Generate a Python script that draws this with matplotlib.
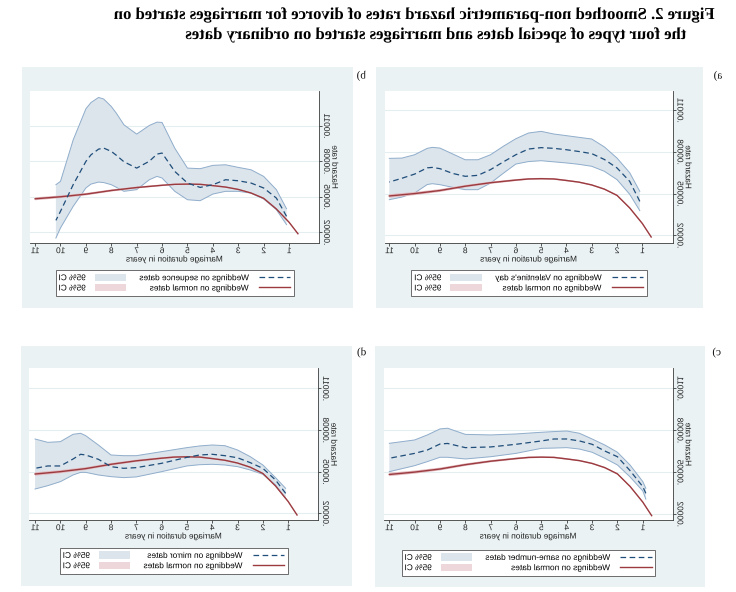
import numpy as np
import matplotlib
matplotlib.use("Agg")
import matplotlib.pyplot as plt
from matplotlib.patches import Rectangle, Patch
from matplotlib.lines import Line2D
from matplotlib.patheffects import AbstractPathEffect
from matplotlib.transforms import Affine2D
from matplotlib.ticker import FuncFormatter
from matplotlib.text import Text

# ---------------- data (hazard rates in units of 1e-5) ----------------
SCALE = 1e-5
x_ticks = [1, 2, 3, 4, 5, 6, 7, 8, 9, 10, 11]
y_ticks = [0.00002, 0.00005, 0.00008, 0.00011]

title_line1 = "Figure 2. Smoothed non-parametric hazard rates of divorce for marriages started on"
title_line2 = "the four types of special dates and marriages started on ordinary dates"
x_title = "Marriage duration in years"
y_title = "Hazard rate"
ci_label = "95% CI"
normal_label = "Weddings on normal dates"

# reference group: weddings on normal dates (same in every panel)
normal_years = [0.65, 1.0, 1.5, 2.0, 2.5, 3.0, 3.5, 4.0, 4.5, 5.0, 5.5, 6.0, 7.0, 8.0, 9.0, 10.0, 11.0]
normal_rate = [1.88, 2.85, 3.97, 4.87, 5.32, 5.62, 5.82, 5.94, 6.05, 6.07, 6.05, 5.97, 5.78, 5.53, 5.22, 5.00, 4.83]
normal_lo = [1.84, 2.80, 3.92, 4.82, 5.27, 5.57, 5.77, 5.89, 6.00, 6.01, 5.99, 5.90, 5.70, 5.44, 5.12, 4.89, 4.71]
normal_hi = [1.92, 2.90, 4.02, 4.92, 5.37, 5.67, 5.87, 6.00, 6.11, 6.13, 6.11, 6.04, 5.86, 5.62, 5.32, 5.11, 4.95]

# a) Valentine's day
val_label = "Weddings on Valentine's day"
val_years = [1.1, 1.5, 2.0, 2.5, 3.0, 3.5, 4.0, 4.5, 5.0, 5.5, 6.0, 6.5, 7.0, 7.5, 8.0, 8.5, 9.0, 9.3, 9.5, 10.0, 10.5, 11.0]
val_rate = [4.44, 5.88, 6.84, 7.45, 7.87, 8.02, 8.15, 8.25, 8.30, 8.20, 7.79, 7.27, 6.72, 6.31, 6.24, 6.45, 6.79, 6.88, 6.85, 6.40, 6.10, 5.83]
val_hi = [5.16, 6.50, 7.55, 8.35, 8.92, 9.04, 9.16, 9.28, 9.47, 9.35, 8.94, 8.39, 7.79, 7.43, 7.43, 7.85, 8.27, 8.32, 8.25, 7.79, 7.55, 7.53]
val_lo = [3.77, 4.95, 6.00, 6.60, 6.96, 7.10, 7.20, 7.28, 7.36, 7.30, 7.12, 6.45, 5.75, 5.28, 5.28, 5.45, 5.64, 5.71, 5.65, 5.04, 4.75, 4.56]

# b) sequence dates
seq_label = "Weddings on sequence dates"
seq_years = [1.1, 1.5, 2.0, 2.5, 3.0, 3.5, 4.0, 4.5, 5.0, 5.5, 6.0, 6.2, 6.5, 7.0, 7.5, 7.8, 8.0, 8.3, 8.5, 8.8, 9.0, 9.5, 10.0, 10.18]
seq_rate = [3.35, 4.89, 5.74, 6.16, 6.35, 6.44, 6.02, 5.79, 6.16, 7.14, 8.69, 8.60, 8.00, 7.42, 7.95, 8.50, 8.83, 9.11, 9.02, 8.54, 7.98, 6.02, 3.77, 3.01]
seq_hi = [3.99, 5.60, 6.72, 7.28, 7.48, 7.70, 7.65, 7.37, 7.42, 9.10, 11.27, 11.30, 11.02, 10.29, 11.07, 12.05, 12.62, 13.25, 13.38, 12.95, 12.42, 9.80, 6.30, 6.02]
seq_lo = [2.65, 3.91, 4.81, 5.31, 5.46, 5.46, 5.23, 4.67, 4.75, 5.46, 6.58, 6.72, 6.44, 5.60, 5.46, 5.80, 6.02, 6.20, 6.24, 6.07, 5.74, 4.19, 2.37, 1.52]

# c) same-number dates
same_label = "Weddings on same-number dates"
same_years = [0.88, 1.0, 1.5, 2.0, 2.5, 3.0, 3.5, 4.0, 4.5, 5.0, 6.0, 7.0, 8.0, 8.7, 9.0, 9.5, 10.0, 11.0]
same_rate = [3.48, 3.96, 5.10, 6.10, 6.51, 6.99, 7.23, 7.37, 7.37, 7.23, 6.99, 6.80, 6.75, 7.05, 7.01, 6.58, 6.34, 5.99]
same_hi = [3.84, 4.32, 5.50, 6.42, 6.94, 7.37, 7.78, 7.94, 7.90, 7.85, 7.73, 7.66, 7.70, 8.14, 8.09, 7.66, 7.30, 7.06]
same_lo = [3.07, 3.65, 4.65, 5.51, 5.99, 6.42, 6.65, 6.75, 6.72, 6.70, 6.34, 6.10, 5.94, 6.06, 6.06, 5.75, 5.46, 5.03]

# d) mirror dates
mir_label = "Weddings on mirror dates"
mir_years = [1.1, 1.5, 2.0, 2.5, 3.0, 3.5, 4.0, 4.5, 5.0, 6.0, 7.0, 7.5, 8.0, 8.5, 9.0, 9.2, 9.5, 10.0, 10.5, 11.0]
mir_rate = [3.44, 4.40, 5.24, 5.65, 6.00, 6.15, 6.25, 6.20, 6.03, 5.60, 5.29, 5.24, 5.36, 5.89, 6.20, 6.25, 5.91, 5.41, 5.41, 5.24]
mir_hi = [3.80, 4.57, 5.48, 6.08, 6.56, 6.87, 6.92, 6.85, 6.73, 6.44, 6.15, 6.15, 6.20, 6.92, 7.59, 7.76, 7.69, 7.16, 7.11, 7.35]
mir_lo = [3.08, 4.04, 4.81, 5.12, 5.36, 5.48, 5.53, 5.50, 5.41, 5.00, 4.62, 4.57, 4.64, 4.76, 4.95, 4.95, 4.76, 4.28, 3.99, 3.75]

# ---------------- style ----------------
W, H = 736, 592
BG = "#EAF2F3"
BLUE = "#1F4E7A"
BLUE_FILL = "#DCE4EC"
BLUE_EDGE = "#8FADCB"
RED = "#9B3B40"
RED_FILL = "#E2B8BC"
RED_LEG = "#EDD7DA"
AXCOL = "#3C3C3C"
SANS = ["Liberation Sans", "DejaVu Sans"]
SERIF = ["Liberation Serif", "DejaVu Serif"]

plt.rcParams["font.family"] = SANS


class Mirror(AbstractPathEffect):
    """Draw text glyphs mirrored left-right about their own centre."""
    def draw_path(self, renderer, gc, tpath, affine, rgbFace=None):
        ext = tpath.get_extents(affine)
        cx = 0.5 * (ext.x0 + ext.x1)
        flip = Affine2D().translate(-cx, 0).scale(-1, 1).translate(cx, 0)
        renderer.draw_path(gc, tpath, affine + flip, rgbFace)


def fr(x0, y0, x1, y1):
    return [x0 / W, 1 - y1 / H, (x1 - x0) / W, (y1 - y0) / H]


fig = plt.figure(figsize=(W / 100, H / 100), dpi=100)
fig.patch.set_facecolor("white")

panels = [
    dict(letter="a)", ax=(385, 90.7, 672.7, 243), bg=(376, 67, 703, 308), lp=(718, 76), legtop=270.3,
         ylim=(1.45, 12.39), xlim=(11.17, -0.20), years=val_years, rate=val_rate, lo=val_lo, hi=val_hi, label=val_label),
    dict(letter="b)", ax=(30, 90.7, 319.3, 243), bg=(21.7, 67, 353, 308), lp=(361.7, 76), legtop=270.3,
         ylim=(1.10, 13.95), xlim=(11.20, -0.19), years=seq_years, rate=seq_rate, lo=seq_lo, hi=seq_hi, label=seq_label),
    dict(letter="c)", ax=(384, 368.3, 672.7, 520), bg=(375, 346, 705, 587), lp=(716.7, 352.7), legtop=550,
         ylim=(1.57, 12.43), xlim=(11.21, -0.18), years=same_years, rate=same_rate, lo=same_lo, hi=same_hi, label=same_label),
    dict(letter="d)", ax=(29, 368.3, 318.3, 520), bg=(20.7, 346, 351.7, 586), lp=(361.7, 352.7), legtop=548,
         ylim=(1.52, 12.44), xlim=(11.24, -0.19), years=mir_years, rate=mir_rate, lo=mir_lo, hi=mir_hi, label=mir_label),
]

for p in panels:
    x0, y0, x1, y1 = p["bg"]
    fig.add_artist(Rectangle((x0 / W, 1 - y1 / H), (x1 - x0) / W, (y1 - y0) / H,
                             transform=fig.transFigure, facecolor=BG, edgecolor="none", zorder=-5))
    ax = fig.add_axes(fr(*p["ax"]))
    ax.set_facecolor("white")
    yrs = np.array(p["years"])
    # special-date CI and estimate
    ax.fill_between(yrs, np.array(p["lo"]) * SCALE, np.array(p["hi"]) * SCALE,
                    facecolor=BLUE_FILL, edgecolor="none", zorder=2)
    ax.plot(yrs, np.array(p["hi"]) * SCALE, color=BLUE_EDGE, lw=0.7, zorder=3)
    ax.plot(yrs, np.array(p["lo"]) * SCALE, color=BLUE_EDGE, lw=0.7, zorder=3)
    # normal dates CI and estimate
    ny = np.array(normal_years)
    ax.fill_between(ny, np.array(normal_lo) * SCALE, np.array(normal_hi) * SCALE,
                    facecolor=RED_FILL, edgecolor="none", zorder=4)
    ax.plot(ny, np.array(normal_rate) * SCALE, color=RED, lw=1.0, zorder=5)
    ax.plot(yrs, np.array(p["rate"]) * SCALE, color=BLUE, lw=0.9, ls=(0, (4.5, 2.8)), zorder=6)

    ax.set_xlim(*p["xlim"])
    ax.set_ylim(p["ylim"][0] * SCALE, p["ylim"][1] * SCALE)
    ax.set_xticks(x_ticks)
    ax.set_xticklabels([str(v) for v in x_ticks])
    ax.set_yticks(y_ticks)
    ax.yaxis.set_major_formatter(FuncFormatter(lambda v, _: f"{v:.5f}".lstrip("0")))
    ax.yaxis.tick_right()
    ax.yaxis.set_label_position("right")
    for s in ("top", "left"):
        ax.spines[s].set_visible(False)
    for s in ("bottom", "right"):
        ax.spines[s].set_color(AXCOL)
        ax.spines[s].set_linewidth(0.6)
    ax.grid(axis="y", color="#E4EDEF", lw=0.8, zorder=0)
    ax.set_axisbelow(True)
    ax.tick_params(axis="x", length=2.5, width=0.6, color=AXCOL, pad=1.2, labelsize=6, labelcolor="#222222")
    ax.tick_params(axis="y", length=2.5, width=0.6, color=AXCOL, pad=1.5, labelsize=6,
                   labelcolor="#222222", labelrotation=90)
    for lbl in ax.get_yticklabels():
        lbl.set_va("center")
    ax.set_xlabel(x_title, fontsize=6, labelpad=1.0, color="#222222")
    ax.set_ylabel(y_title, fontsize=6, labelpad=1.0, color="#222222")

    handles = [Patch(facecolor=BLUE_FILL, edgecolor="none"),
               Patch(facecolor=RED_LEG, edgecolor="none"),
               Line2D([], [], color=BLUE, lw=0.9, ls=(0, (4.5, 2.8))),
               Line2D([], [], color=RED, lw=1.0)]
    labels = [ci_label, ci_label, p["label"], normal_label]
    axc = 0.5 * (p["ax"][0] + p["ax"][2])
    leg = ax.legend(handles, labels, loc="upper center", bbox_to_anchor=(axc / W, 1 - p["legtop"] / H),
                    bbox_transform=fig.transFigure, ncol=2, markerfirst=False, fontsize=6,
                    frameon=True, fancybox=False, edgecolor="#555555", framealpha=1,
                    borderpad=0.4, labelspacing=0.2, handlelength=3.8, handleheight=1.0,
                    handletextpad=1.0, columnspacing=1.6, borderaxespad=0)
    leg.get_frame().set_linewidth(0.6)

    fig.text(p["lp"][0] / W, 1 - p["lp"][1] / H, p["letter"], fontsize=8, family=SERIF,
             ha="center", va="center", color="#111111")

fig.text(710 / W, 1 - 15 / H, title_line1, fontsize=12, family=SERIF, weight="bold", ha="right", va="center")
fig.text(682 / W, 1 - 35 / H, title_line2, fontsize=12, family=SERIF, weight="bold", ha="right", va="center")

fig.canvas.draw()
for t in fig.findobj(Text):
    t.set_path_effects([Mirror()])

fig.savefig("out.png", dpi=100, facecolor="white")
